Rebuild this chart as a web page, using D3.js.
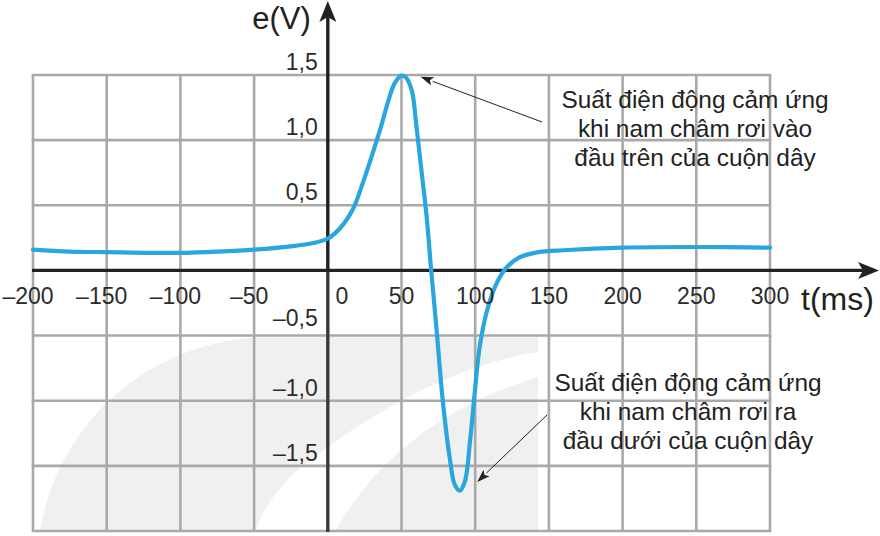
<!DOCTYPE html>
<html><head><meta charset="utf-8">
<script src="https://cdn.jsdelivr.net/npm/d3@7"></script>
<style>
html,body{margin:0;padding:0;background:#fff;}
svg{display:block;font-family:"Liberation Sans",Arial,Helvetica,sans-serif;}
</style></head>
<body>
<svg id="chart" width="880" height="536"></svg>
<script>
// ---- data ----
const timeMs = [-200,-175,-150,-125,-100,-75,-50,-25,-10,0,8,17,24,31,36,41,45.5,50,53,57,60,63.5,67,70,74,78,83,86,89.5,93,96.5,100,103,108,114.5,121,130,143,160,200,250,300];
const emf    = [0.16,0.145,0.14,0.135,0.135,0.145,0.16,0.185,0.21,0.245,0.32,0.47,0.68,0.92,1.1,1.3,1.44,1.495,1.48,1.38,1.12,0.77,0.42,0.02,-0.48,-1.0,-1.46,-1.64,-1.69,-1.62,-1.31,-0.9,-0.59,-0.31,-0.1,0.02,0.1,0.14,0.155,0.175,0.18,0.175];
const xTickValues = [-200,-150,-100,-50,0,50,100,150,200,250,300];
const yTickValues = [1.5,1.0,0.5,-0.5,-1.0,-1.5];
const xGridValues = [-200,-150,-100,-50,0,50,100,150,200,250,300];
const yGridValues = [1.5,1.0,0.5,0,-0.5,-1.0,-1.5,-2.0];
const xTitle = "t(ms)";
const yTitle = "e(V)";
const noteTop = ["Suất điện động cảm ứng","khi nam châm rơi vào","đầu trên của cuộn dây"];
const noteBottom = ["Suất điện động cảm ứng","khi nam châm rơi ra","đầu dưới của cuộn dây"];
// annotation anchor points (data coords): peak and trough
const notePeak = {t:50, e:1.44};
const noteTrough = {t:100, e:-1.6};

const svg = d3.select("#chart");
const x = d3.scaleLinear().domain([-200,300]).range([33,770]);
const y = d3.scaleLinear().domain([-2,1.5]).range([531,75]);
const fmt = v => (v<0?"\u2013":"") + Math.abs(v).toFixed(v===0?0:(Number.isInteger(v)&&Math.abs(v)>=50?0:1)).replace(".",",");

// ---- watermark swoosh ----
const wm = svg.append("g").attr("fill","#f0f0f0");
wm.append("path").attr("d","M40,531 C55,440 130,345 260,337 L538,337 L538,352 C450,365 360,420 300,468 C275,490 262,512 255,531 Z");
wm.append("path").attr("d","M335,531 C370,470 430,410 538,377 L538,531 Z");

// ---- grid ----
const grid = svg.append("g").attr("stroke","#a9a9a9").attr("stroke-width",2.6);
grid.selectAll("line.v").data(xGridValues.filter(d=>d!==0)).join("line")
  .attr("x1",d=>x(d)).attr("x2",d=>x(d)).attr("y1",y(1.5)).attr("y2",y(-2));
grid.selectAll("line.h").data(yGridValues.filter(d=>d!==0)).join("line")
  .attr("x1",x(-200)-1.3).attr("x2",x(300)+1.3).attr("y1",d=>y(d)).attr("y2",d=>y(d));

// ---- axes ----
const ax = svg.append("g");
ax.append("line").attr("x1",x(0)).attr("x2",x(0)).attr("y1",y(-2)+1).attr("y2",y(0))
  .attr("stroke","#3a3a3a").attr("stroke-width",3.4);
ax.append("line").attr("x1",x(0)).attr("x2",x(0)).attr("y1",y(0)).attr("y2",14)
  .attr("stroke","#222").attr("stroke-width",3.4);
ax.append("path").attr("d",`M${x(0)},1 L${x(0)-8.5},22 L${x(0)},17 L${x(0)+8.5},22 Z`).attr("fill","#222");
ax.append("line").attr("x1",x(-200)-1).attr("x2",866).attr("y1",y(0)).attr("y2",y(0))
  .attr("stroke","#222").attr("stroke-width",3.2);
ax.append("path").attr("d",`M879,${y(0)} L858,${y(0)-8.5} L863,${y(0)} L858,${y(0)+8.5} Z`).attr("fill","#222");

// ---- curve ----
const pts = timeMs.map((t,i)=>[t,emf[i]]);
svg.append("path").datum(pts)
  .attr("d",d3.line().x(d=>x(d[0])).y(d=>y(d[1])).curve(d3.curveCatmullRom.alpha(0.5)))
  .attr("fill","none").attr("stroke","#2aa6df").attr("stroke-width",4.2)
  .attr("stroke-linejoin","round").attr("stroke-linecap","round");

// ---- tick labels ----
const lab = svg.append("g").attr("fill","#2b2b2b").attr("font-size",23);
lab.selectAll("text.x").data(xTickValues).join("text")
  .attr("x",d=>x(d) + (d===0?14:(d<0?-5:0)))
  .attr("y",y(0)+34).attr("text-anchor","middle")
  .text(d=>fmt(d));
lab.selectAll("text.y").data(yTickValues).join("text")
  .attr("x",x(0)-10).attr("y",d=>y(d)-(d===-0.5?10:5)).attr("text-anchor","end")
  .text(d=>fmt(d));

// ---- titles ----
svg.append("text").attr("x",x(0)-17).attr("y",29).attr("text-anchor","end")
  .attr("font-size",31).attr("fill","#222").text(yTitle);
svg.append("text").attr("x",801).attr("y",310).attr("text-anchor","start")
  .attr("font-size",32).attr("fill","#222").text(xTitle);

// ---- annotations ----
const ann = svg.append("g").attr("fill","#222").attr("font-size",24.4).attr("text-anchor","middle");
noteTop.forEach((s,i)=>ann.append("text").attr("x",695).attr("y",108+i*29).text(s));
noteBottom.forEach((s,i)=>ann.append("text").attr("x",688).attr("y",391+i*29).text(s));

function arrow(x1,y1,x2,y2){
  const a = Math.atan2(y2-y1,x2-x1), L=13, W=4.5;
  const bx = x2 - L*Math.cos(a), by = y2 - L*Math.sin(a);
  svg.append("line").attr("x1",x1).attr("y1",y1).attr("x2",bx).attr("y2",by)
    .attr("stroke","#222").attr("stroke-width",1);
  const px = -Math.sin(a)*W, py = Math.cos(a)*W;
  const mx = x2 - (L-3)*Math.cos(a), my = y2 - (L-3)*Math.sin(a);
  svg.append("path").attr("d",`M${x2},${y2} L${bx+px},${by+py} L${mx},${my} L${bx-px},${by-py} Z`).attr("fill","#222");
}
arrow(542,122, x(notePeak.t)+19, y(notePeak.e)-6);
arrow(547,415, x(noteTrough.t)+2, y(noteTrough.e)+3);
</script>
</body></html>
